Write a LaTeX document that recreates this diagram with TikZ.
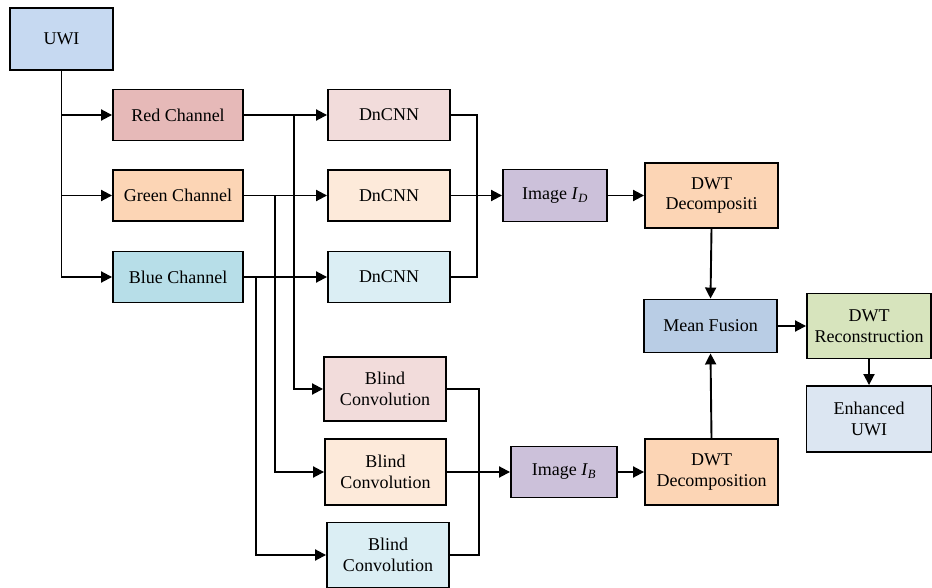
\documentclass[tikz,border=0pt]{standalone}
\usepackage{fontspec}
\setmainfont{Liberation Serif}
\usetikzlibrary{arrows.meta}
\definecolor{uwiblue}{HTML}{C6D9F1}
\definecolor{redch}{HTML}{E6B9B8}
\definecolor{greench}{HTML}{FCD5B5}
\definecolor{bluech}{HTML}{B7DEE8}
\definecolor{redlt}{HTML}{F2DCDB}
\definecolor{greenlt}{HTML}{FDEADA}
\definecolor{bluelt}{HTML}{DBEEF4}
\definecolor{imgpurple}{HTML}{CCC1DA}
\definecolor{fusion}{HTML}{B9CDE5}
\definecolor{recgreen}{HTML}{D7E4BD}
\definecolor{enhblue}{HTML}{DCE6F2}

\begin{document}
\begin{tikzpicture}[x=1pt,y=-1pt,
  box/.style={draw, line width=1.9pt, inner sep=0pt, align=center,
    font=\fontsize{18}{20.5}\selectfont},
  arr/.style={-{Triangle[length=11pt,width=11pt]}, line width=1.9pt},
  wire/.style={line width=1.9pt}]
\useasboundingbox (0,0) rectangle (932,588);

\node[box, fill=uwiblue, minimum width=103pt, minimum height=62pt] (uwi) at (61.5,39) {UWI};
\node[box, fill=redch, minimum width=130pt, minimum height=51pt] (red) at (178,115) {Red Channel};
\node[box, fill=greench, minimum width=130pt, minimum height=51pt] (green) at (178,195.5) {Green Channel};
\node[box, fill=bluech, minimum width=130pt, minimum height=51pt] (blue) at (178,277) {Blue Channel};
\node[box, fill=redlt, minimum width=122pt, minimum height=51pt] (dn1) at (389,115) {DnCNN};
\node[box, fill=greenlt, minimum width=122pt, minimum height=51pt] (dn2) at (389,195.5) {DnCNN};
\node[box, fill=bluelt, minimum width=122pt, minimum height=51pt] (dn3) at (389,277) {DnCNN};
\node[box, fill=redlt, minimum width=122pt, minimum height=64pt] (bc1) at (385,389) {Blind\\Convolution};
\node[box, fill=greenlt, minimum width=121pt, minimum height=66pt] (bc2) at (385.5,472) {Blind\\Convolution};
\node[box, fill=bluelt, minimum width=122pt, minimum height=65pt] (bc3) at (388,555) {Blind\\Convolution};
\node[box, fill=imgpurple, minimum width=104pt, minimum height=52pt] (imgd) at (555,195.5) {Image \textit{I}\textsubscript{\textit{D}}};
\node[box, fill=greench, minimum width=133pt, minimum height=65pt] (dwtd) at (711.5,195.5) {DWT\\Decompositi};
\node[box, fill=fusion, minimum width=133pt, minimum height=53pt] (mean) at (710.5,326) {Mean Fusion};
\node[box, fill=recgreen, minimum width=124pt, minimum height=65pt] (rec) at (869,326) {DWT\\Reconstruction};
\node[box, fill=enhblue, minimum width=125pt, minimum height=66pt] (enh) at (869,419) {Enhanced\\UWI};
\node[box, fill=imgpurple, minimum width=106pt, minimum height=51pt] (imgb) at (564,472) {Image \textit{I}\textsubscript{\textit{B}}};
\node[box, fill=greench, minimum width=133pt, minimum height=66pt] (dwtb) at (711.5,472) {DWT\\Decomposition};

\foreach \ch in {red,green,blue}
  \draw[arr] (uwi.south) |- (\ch.west);
\draw[arr] (red.east) -- (dn1.west);
\draw[arr] (green.east) -- (dn2.west);
\draw[arr] (blue.east) -- (dn3.west);
\draw[arr] (red.east) -- ++(50,0) |- (bc1.west);
\draw[arr] (green.east) -- ++(31,0) |- (bc2.west);
\draw[arr] (blue.east) -- ++(12,0) |- (bc3.west);
\draw[wire] (dn1.east) -- ++(26,0) |- (dn3.east);
\draw[arr] (dn2.east) -- (imgd.west);
\draw[wire] (bc1.east) -- ++(32,0) |- (bc3.east);
\draw[arr] (bc2.east) -- (imgb.west);
\draw[arr] (imgd.east) -- (dwtd.west);
\draw[arr] (imgb.east) -- (dwtb.west);
\draw[arr] (dwtd.south) -- (mean.north);
\draw[arr] (dwtb.north) -- (mean.south);
\draw[arr] (mean.east) -- (rec.west);
\draw[arr] (rec.south) -- (enh.north);
\end{tikzpicture}
\end{document}
